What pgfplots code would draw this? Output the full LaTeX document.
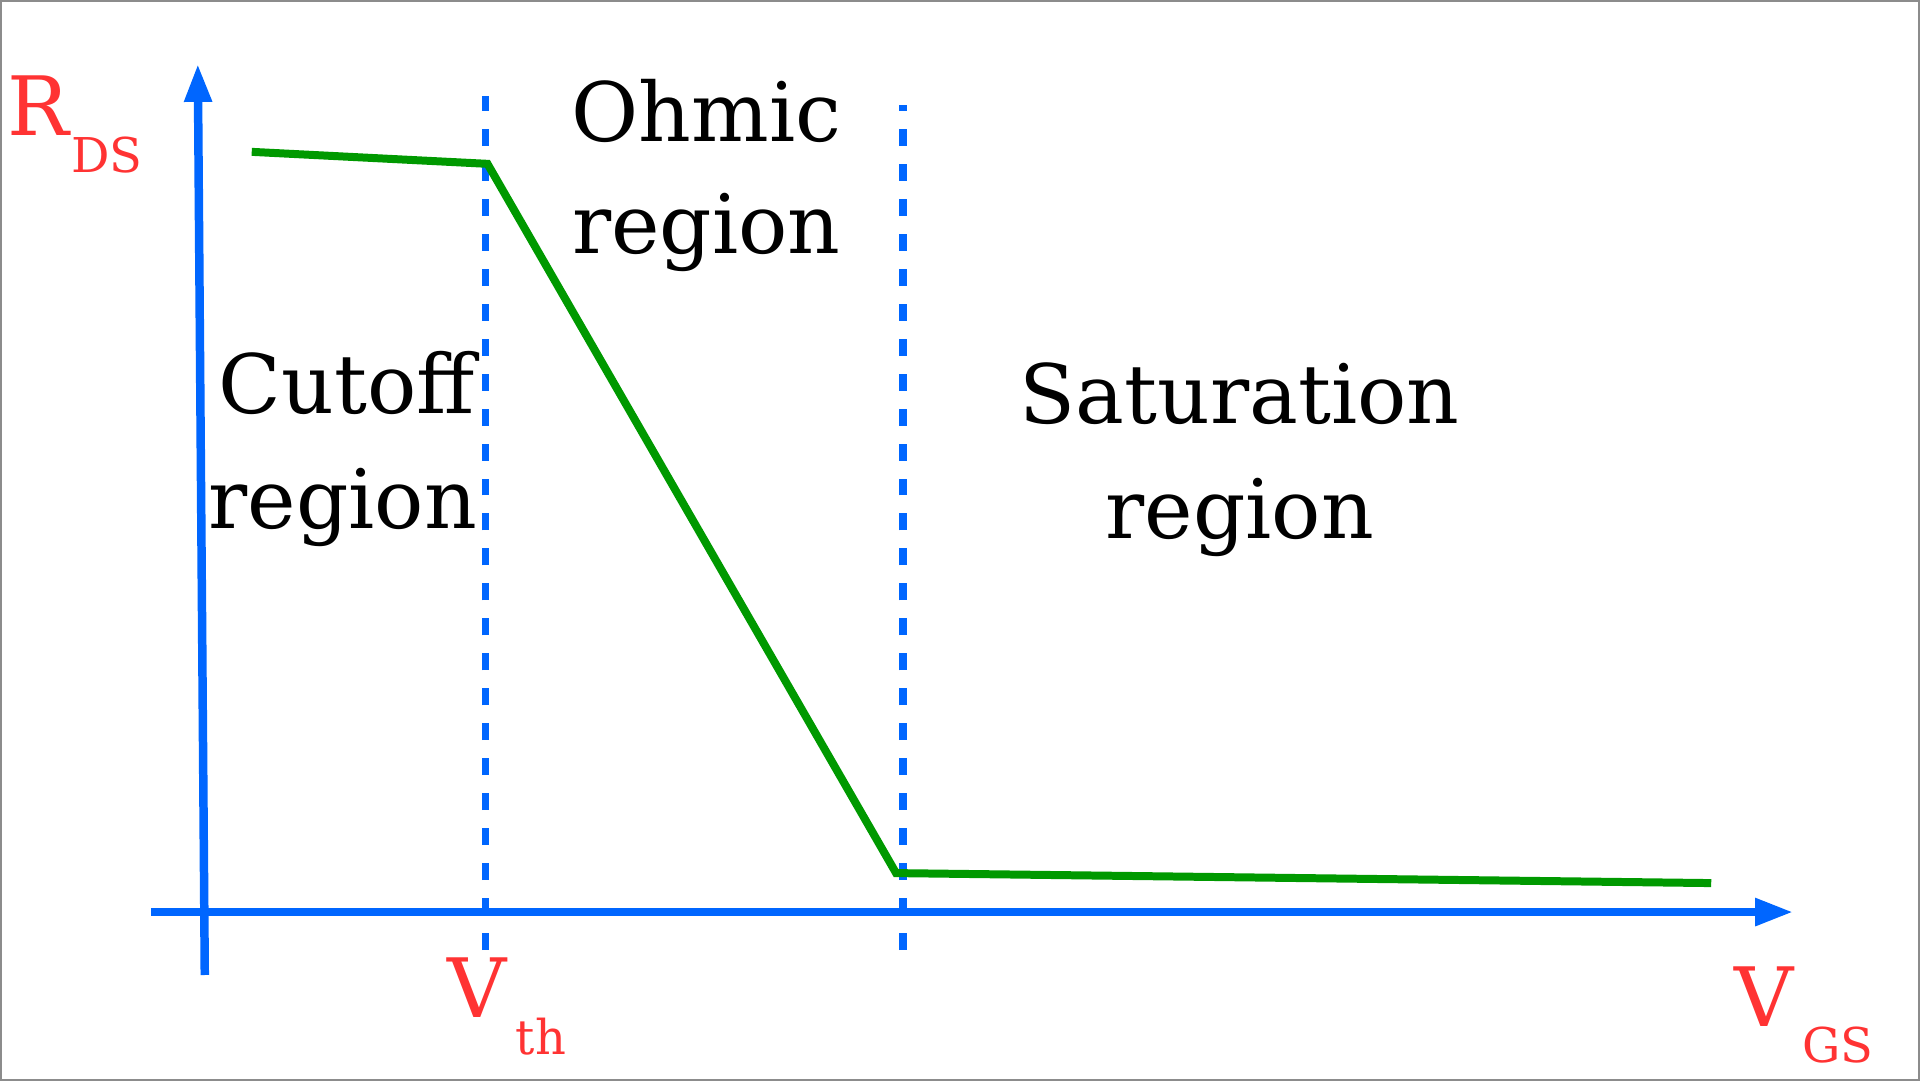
\documentclass[border=0pt]{standalone}
\usepackage{pgfplots}
\pgfplotsset{compat=1.18}
\usepackage{fontspec}
\setmainfont{DejaVu Serif}
\usetikzlibrary{arrows.meta}
\definecolor{ablue}{RGB}{0,102,255}
\definecolor{ared}{RGB}{255,51,51}
\definecolor{agreen}{RGB}{0,153,0}
\definecolor{agray}{RGB}{140,140,140}
\begin{document}
\begin{tikzpicture}
\begin{axis}[
  width=960pt, height=540pt, scale only axis,
  xmin=0, xmax=1920, ymin=0, ymax=1080, y dir=reverse,
  axis line style={agray, line width=1pt},
  ticks=none, clip=false,
]
% axes
\addplot[ablue, line width=4.25pt, -{Triangle[length=19pt,width=13pt]}] coordinates {(150,912) (1794,912)};
\addplot[ablue, line width=4.25pt, -{Triangle[length=19pt,width=13pt]}] coordinates {(204,975) (197,63)};
% dashed region boundaries
\addplot[ablue, line width=4pt, dash pattern=on 8.5pt off 9pt] coordinates {(485,950) (485,95)};
\addplot[ablue, line width=4pt, dash pattern=on 8.5pt off 9pt] coordinates {(903,950) (903,104)};
% R_DS curve
\addplot[agreen, line width=4pt] coordinates {(251,151) (487,163) (896,873) (1712,883)};
% labels
\tikzset{lab/.style={inner sep=0pt, font=\fontsize{41}{50}\selectfont}}
\tikzset{sub/.style={inner sep=0pt, text=ared, font=\fontsize{24}{29}\selectfont}}
\node[lab, anchor=base] at (axis cs:706,141) {Ohmic};
\node[lab, anchor=base] at (axis cs:706,253) {region};
\node[lab, anchor=base] at (axis cs:346,413) {Cutoff};
\node[lab, anchor=base] at (axis cs:342,528) {region};
\node[lab, anchor=base] at (axis cs:1240,423) {Saturation};
\node[lab, anchor=base] at (axis cs:1240,538) {region};
\node[lab, text=ared, anchor=base west] at (axis cs:6,135) {R};
\node[sub, anchor=base west] at (axis cs:70,172) {DS};
\node[lab, text=ared, anchor=base west] at (axis cs:447,1018) {V};
\node[sub, anchor=base west] at (axis cs:515,1055) {th};
\node[lab, text=ared, anchor=base west] at (axis cs:1735,1027) {V};
\node[sub, anchor=base west] at (axis cs:1803,1063) {GS};
\end{axis}
\end{tikzpicture}
\end{document}
